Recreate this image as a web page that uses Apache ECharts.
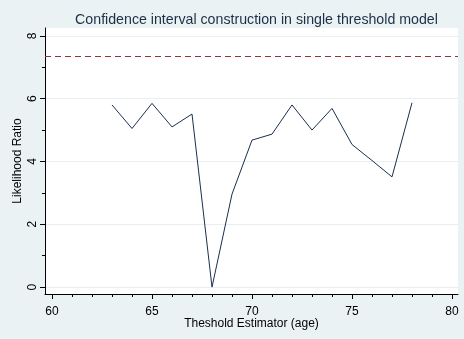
<!DOCTYPE html>
<html><head><meta charset="utf-8">
<script src="https://cdn.jsdelivr.net/npm/echarts@6/dist/echarts.min.js"></script>
<style>html,body{margin:0;padding:0;background:#eaf2f3;}#c{width:464px;height:339px;}</style>
</head><body><div id="c"></div>
<script>
const ages = [63,64,65,66,67,68,69,70,71,72,73,74,75,76,77,78];
const lr = [5.80,5.05,5.85,5.10,5.51,0.0,2.96,4.68,4.87,5.80,5.00,5.69,4.54,4.03,3.51,5.87];
const critical = 7.35;
const xMajor = [60,65,70,75,80];
const xMinor = [60,61,62,63,64,65,66,67,68,69,70,71,72,73,74,75,76,77,78,79,80];
const yMajor = [0,2,4,6,8];
const yMinor = [0,1,2,3,4,5,6,7,8];

const chart = echarts.init(document.getElementById('c'));
const font = 'Liberation Sans, Arial, sans-serif';
const xCommon = {type:'value', min:59.65, max:80.3, splitLine:{show:false}};
const yCommon = {type:'value', min:-0.22, max:8.25};
chart.setOption({
  backgroundColor:'#eaf2f3',
  animation:false,
  title:{text:'Confidence interval construction in single threshold model', left:251.5, textAlign:'center', top:8,
    textStyle:{fontFamily:font, fontSize:14.2, fontWeight:'normal', color:'#1c2f45'}},
  grid:{left:45, right:6, top:28, bottom:45, show:true, backgroundColor:'#ffffff', borderWidth:0},
  xAxis:[
    Object.assign({}, xCommon, {
      name:'Theshold Estimator (age)', nameLocation:'middle', nameGap:24, nameMoveOverlap:false,
      nameTextStyle:{fontFamily:font, fontSize:12, color:'#000'},
      axisLine:{show:true, onZero:false, lineStyle:{color:'#000', width:1}},
      axisTick:{show:true, customValues:xMajor, length:5, lineStyle:{color:'#000'}},
      axisLabel:{customValues:xMajor, fontFamily:font, fontSize:12, color:'#000', margin:12}
    }),
    Object.assign({}, xCommon, {
      position:'bottom',
      axisLine:{show:false, onZero:false},
      axisTick:{show:true, customValues:xMinor, length:3, lineStyle:{color:'#000'}},
      axisLabel:{show:false}
    })
  ],
  yAxis:[
    Object.assign({}, yCommon, {
      name:'Likelihood Ratio', nameLocation:'middle', nameGap:21, nameRotate:90, nameMoveOverlap:false,
      nameTextStyle:{fontFamily:font, fontSize:12, color:'#000'},
      axisLine:{show:true, onZero:false, lineStyle:{color:'#000', width:1}},
      axisTick:{show:true, customValues:yMajor, length:5, lineStyle:{color:'#000'}},
      axisLabel:{customValues:yMajor, rotate:90, fontFamily:font, fontSize:12, color:'#000', margin:6},
      splitLine:{show:true, lineStyle:{color:'#e8eff1', width:1}}
    }),
    Object.assign({}, yCommon, {
      position:'left',
      axisLine:{show:false, onZero:false},
      axisTick:{show:true, customValues:yMinor, length:3, lineStyle:{color:'#000'}},
      axisLabel:{show:false},
      splitLine:{show:false}
    })
  ],
  series:[
    {type:'line', xAxisIndex:0, yAxisIndex:0, data:ages.map((a,i)=>[a, lr[i]]), showSymbol:false,
     lineStyle:{color:'#1a2f4f', width:1}, z:3,
     markLine:{silent:true, symbol:'none', label:{show:false},
       lineStyle:{color:'#90353b', type:[6,4], width:1},
       data:[{yAxis:critical}]}}
  ]
});
</script></body></html>
